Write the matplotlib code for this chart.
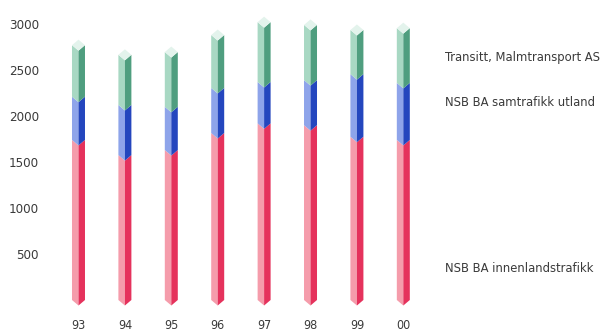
import matplotlib
matplotlib.use("Agg")
import matplotlib.pyplot as plt
from matplotlib.patches import Polygon
from matplotlib import font_manager

years = ["93", "94", "95", "96", "97", "98", "99", "00"]
innenland = [1740, 1575, 1630, 1815, 1920, 1900, 1775, 1740]
samtrafikk = [470, 545, 470, 490, 450, 490, 680, 620]
transitt = [560, 545, 595, 575, 650, 600, 480, 595]
series_names = ["NSB BA innenlandstrafikk", "NSB BA samtrafikk utland",
                "Transitt, Malmtransport AS"]
y_ticks = [500, 1000, 1500, 2000, 2500, 3000]

# (light left face, dark right face) per series
face_colors = [("#F59CAB", "#E5325C"),
               ("#8EA4EA", "#2446BE"),
               ("#A8D8C3", "#4F9E7F")]
top_color = "#E3F3EC"

names = {f.name for f in font_manager.fontManager.ttflist}
family = "Liberation Sans Narrow" if "Liberation Sans Narrow" in names else "DejaVu Sans"
plt.rcParams["font.family"] = [family, "DejaVu Sans"]
plt.rcParams["font.stretch"] = "condensed"
text_color = "#3a3a3a"

W, H = 603, 332
fig = plt.figure(figsize=(W / 100, H / 100), dpi=100)
ax = fig.add_axes([50 / W, 32 / H, 380 / W, 276 / H])
ax.set_xlim(-0.614, 7.575)
ax.set_ylim(0, 3000)
for s in ax.spines.values():
    s.set_visible(False)

half = 0.14   # half width of a column
dip = 60      # depth of the chevron at the front edge

stacks = [innenland, samtrafikk, transitt]
for i in range(len(years)):
    L, C, R = i - half, i, i + half
    base = 0
    for k, vals in enumerate(stacks):
        top = base + vals[i]
        light, dark = face_colors[k]
        ax.add_patch(Polygon([(L, base), (C, base - dip), (C, top - dip), (L, top)],
                             closed=True, facecolor=light, edgecolor="none",
                             clip_on=False))
        ax.add_patch(Polygon([(C, base - dip), (R, base), (R, top), (C, top - dip)],
                             closed=True, facecolor=dark, edgecolor="none",
                             clip_on=False))
        base = top
    ax.add_patch(Polygon([(L, base), (C, base - dip), (R, base), (C, base + dip)],
                         closed=True, facecolor=top_color, edgecolor="none",
                         clip_on=False))

ax.set_yticks(y_ticks)
ax.set_yticklabels([str(v) for v in y_ticks], fontsize=9.5, color=text_color)
ax.set_xticks(range(len(years)))
ax.set_xticklabels(years, fontsize=9, color=text_color)
ax.tick_params(axis="y", length=0, pad=8)
ax.tick_params(axis="x", length=0, pad=14)

label_y = [268, 102, 57]
for name, yp in zip(series_names, label_y):
    fig.text(445 / W, 1 - yp / H, name, fontsize=9.3, color=text_color,
             ha="left", va="center")

fig.savefig("out.png", dpi=100, facecolor="white")
